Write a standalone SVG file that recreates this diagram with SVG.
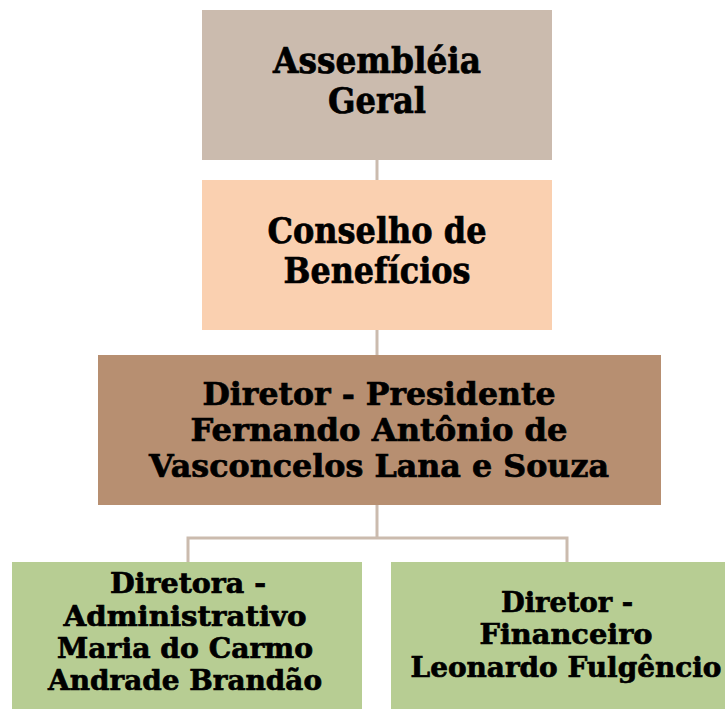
<svg xmlns="http://www.w3.org/2000/svg" width="725" height="709" viewBox="0 0 725 709">
<style>
text{font-family:"DejaVu Serif","Liberation Serif",serif;font-weight:bold;fill:#000;stroke:#000;stroke-width:0.7;text-anchor:middle}
.conn{stroke:#cbbbae;stroke-width:3;fill:none}
.t1{font-size:35px}
.t3{font-size:32px}
.t4{font-size:28px}
</style>
<rect width="725" height="709" fill="#fff"/>
<g id="connectors">
<line class="conn" x1="377" y1="160" x2="377" y2="180"/>
<line class="conn" x1="377" y1="330" x2="377" y2="355"/>
<polyline class="conn" points="377,505 377,538"/>
<polyline class="conn" points="188,562 188,538 567,538 567,562"/>
</g>
<g id="assembleia">
<rect x="202" y="10" width="350" height="150" fill="#cbbbae"/>
<text class="t1" x="377" y="73" textLength="208" lengthAdjust="spacingAndGlyphs">Assembléia</text>
<text class="t1" x="377" y="113" textLength="98" lengthAdjust="spacingAndGlyphs">Geral</text>
</g>
<g id="conselho">
<rect x="202" y="180" width="350" height="150" fill="#fad0b0"/>
<text class="t1" x="377" y="243" textLength="219" lengthAdjust="spacingAndGlyphs">Conselho de</text>
<text class="t1" x="377" y="283" textLength="187" lengthAdjust="spacingAndGlyphs">Benefícios</text>
</g>
<g id="presidente">
<rect x="98" y="355" width="563" height="150" fill="#b78f71"/>
<text class="t3" x="379" y="405" textLength="353" lengthAdjust="spacingAndGlyphs">Diretor - Presidente</text>
<text class="t3" x="379" y="441" textLength="377" lengthAdjust="spacingAndGlyphs">Fernando Antônio de</text>
<text class="t3" x="379" y="477" textLength="460" lengthAdjust="spacingAndGlyphs">Vasconcelos Lana e Souza</text>
</g>
<g id="administrativo">
<rect x="12" y="562" width="350" height="147" fill="#b7cd93"/>
<text class="t4" x="188" y="593" textLength="156" lengthAdjust="spacingAndGlyphs">Diretora -</text>
<text class="t4" x="185" y="626" textLength="243" lengthAdjust="spacingAndGlyphs">Administrativo</text>
<text class="t4" x="185" y="658" textLength="256" lengthAdjust="spacingAndGlyphs">Maria do Carmo</text>
<text class="t4" x="185" y="690" textLength="274" lengthAdjust="spacingAndGlyphs">Andrade Brandão</text>
</g>
<g id="financeiro">
<rect x="391" y="562" width="352" height="147" fill="#b7cd93"/>
<text class="t4" x="567" y="612" textLength="132" lengthAdjust="spacingAndGlyphs">Diretor -</text>
<text class="t4" x="566" y="644" textLength="173" lengthAdjust="spacingAndGlyphs">Financeiro</text>
<text class="t4" x="566" y="677" textLength="311" lengthAdjust="spacingAndGlyphs">Leonardo Fulgêncio</text>
</g>
</svg>
